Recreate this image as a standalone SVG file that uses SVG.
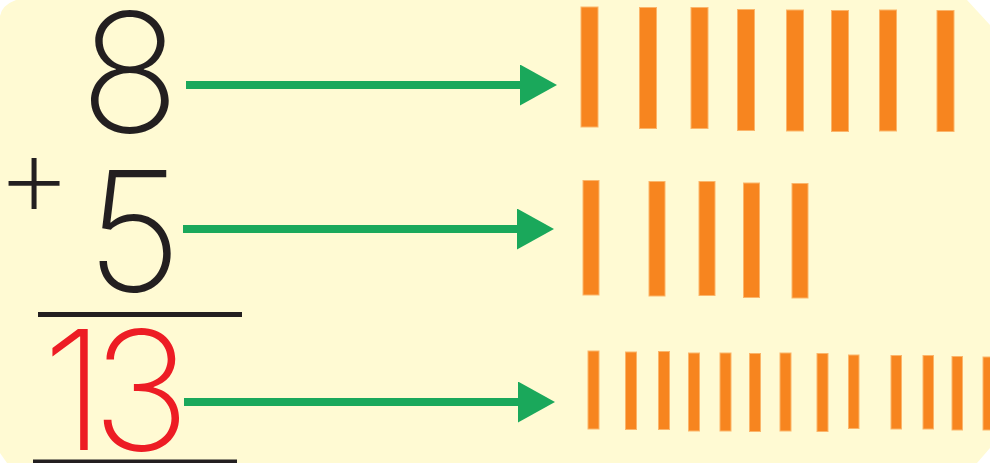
<svg xmlns="http://www.w3.org/2000/svg" width="990" height="463" viewBox="0 0 990 463">
  <style>
    .num { font-family: Inter, "DejaVu Sans", sans-serif; font-weight: 200; font-size: 166px; text-anchor: middle; }
    .blk { fill: #231F20; }
    .red { fill: #ED1C24; }
    .bar { fill: #F7851F; stroke: #FBB56A; stroke-width: 1; }
    .conn { stroke: #1AA85B; stroke-width: 8; fill: none; marker-end: url(#head); }
    .rule { stroke: #231F20; stroke-width: 5; }
  </style>
  <defs>
    <marker id="head" markerUnits="userSpaceOnUse" viewBox="0 0 37 41" markerWidth="37" markerHeight="41" refX="0" refY="20.5" orient="auto">
      <path d="M0,0 L37,20.5 L0,41 Z" fill="#1AA85B"/>
    </marker>
  </defs>
  <rect width="990" height="463" fill="#FFFFFF"/>
  <path id="background" d="M16,0 L967,0 L990,25 L990,448 L977,463 L7,463 L0,453 L0,16 Q2,5 16,0 Z" fill="#FFFAD3"/>

  <g id="num-8"><text class="num blk" x="130" y="132">8</text></g>
  <g id="num-5">
    <text class="num blk" x="34" y="217" style="font-size:118px;font-weight:170">+</text>
    <text class="num blk" x="134" y="291">5</text>
    <line class="rule" x1="38" y1="314.5" x2="242" y2="314.5"/>
  </g>
  <g id="sum-13">
    <text class="num red" x="73.5" y="450">1<tspan x="141">3</tspan></text>
    <line class="rule" x1="33" y1="462" x2="237" y2="462"/>
  </g>

  <g id="bars-8">
    <rect class="bar" x="581" y="7" width="17" height="120"/>
    <rect class="bar" x="639.5" y="7.5" width="17" height="121"/>
    <rect class="bar" x="691" y="7.5" width="17" height="121"/>
    <rect class="bar" x="737.5" y="9.5" width="17" height="121"/>
    <rect class="bar" x="786.5" y="10" width="17" height="121"/>
    <rect class="bar" x="831.5" y="10.5" width="17" height="121"/>
    <rect class="bar" x="879.5" y="10" width="17" height="121"/>
    <rect class="bar" x="937" y="10.5" width="17" height="121"/>
  </g>
  <g id="bars-5">
    <rect class="bar" x="583" y="180.5" width="16" height="114.5"/>
    <rect class="bar" x="649" y="181.5" width="16" height="114.5"/>
    <rect class="bar" x="699" y="181.5" width="16" height="114"/>
    <rect class="bar" x="743.5" y="183" width="16" height="114.5"/>
    <rect class="bar" x="792" y="183.5" width="16" height="114.5"/>
  </g>
  <g id="bars-13">
    <rect class="bar" x="588" y="351" width="11" height="78"/>
    <rect class="bar" x="625.5" y="352" width="11" height="77.5"/>
    <rect class="bar" x="658.5" y="351.5" width="11" height="78"/>
    <rect class="bar" x="688.5" y="353" width="11" height="78"/>
    <rect class="bar" x="720" y="353" width="11" height="78"/>
    <rect class="bar" x="749.5" y="353.5" width="11" height="78"/>
    <rect class="bar" x="780" y="353" width="11" height="78"/>
    <rect class="bar" x="817" y="353.5" width="11" height="78"/>
    <rect class="bar" x="848.5" y="355" width="10.5" height="73.5"/>
    <rect class="bar" x="891" y="355.5" width="10.5" height="73.5"/>
    <rect class="bar" x="923" y="355.5" width="10.5" height="73.5"/>
    <rect class="bar" x="952" y="356.5" width="10.5" height="73.5"/>
    <rect class="bar" x="983" y="357" width="11" height="73"/>
  </g>

  <g id="connectors">
    <line class="conn" x1="186" y1="85" x2="520" y2="85"/>
    <line class="conn" x1="183" y1="229" x2="517" y2="229"/>
    <line class="conn" x1="184" y1="402" x2="518" y2="402"/>
  </g>
</svg>
